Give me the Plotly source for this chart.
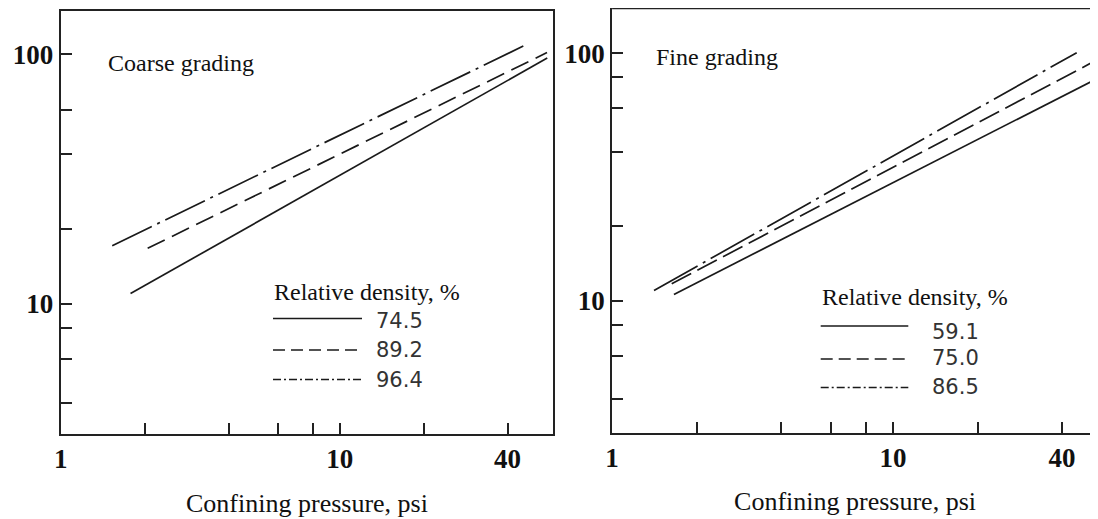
import plotly.graph_objects as go

# ---------------- data ----------------
coarse_density = ["74.5", "89.2", "96.4"]
coarse_x_745 = [1.78, 55.5]
coarse_y_745 = [11.0, 96.5]
coarse_x_892 = [2.05, 55.4]
coarse_y_892 = [16.7, 101.5]
coarse_x_964 = [1.53, 47.0]
coarse_y_964 = [17.1, 109.6]

fine_density = ["59.1", "75.0", "86.5"]
fine_x_591 = [1.66, 58.0]
fine_y_591 = [10.6, 83.0]
fine_x_750 = [1.63, 58.0]
fine_y_750 = [11.7, 99.0]
fine_x_865 = [1.41, 45.1]
fine_y_865 = [11.0, 100.6]

x_tick_vals = [1, 2, 4, 6, 8, 10, 20, 40]
x_tick_text = ["1", "", "", "", "", "10", "", "40"]
y_tick_vals_left = [4, 6, 8, 10, 20, 40, 60, 100]
y_tick_text_left = ["", "", "", "10", "", "", "", "100"]
y_tick_vals_right = [4, 6, 8, 10, 20, 40, 60, 80, 100]
y_tick_text_right = ["", "", "", "10", "", "", "", "", "100"]

x_title = "Confining pressure, psi"
legend_title = "Relative density, %"
panel_titles = ["Coarse grading", "Fine grading"]

# ---------------- styling ----------------
OFF = 8                      # page body margin of the html page
W, H = 1098 - OFF, 519 - OFF
INK = "#1a1a1a"
SERIF = "Liberation Serif, Times New Roman, serif"
SANS = "DejaVu Sans, Tahoma, sans-serif"


def px(x):
    return (x - OFF) / W


def py(y):
    return 1 - (y - OFF) / H


line_dash_coarse = ["solid", "19px,8px", "44px,6px,3px,6px"]
line_dash_fine = ["solid", "22px,7px", "50px,6px,3px,6px"]
legend_dash = ["solid", "12px,6px", "8px,3px,2px,3px"]

fig = go.Figure()

coarse_series = [(coarse_x_745, coarse_y_745), (coarse_x_892, coarse_y_892), (coarse_x_964, coarse_y_964)]
for (xs, ys), name, dash in zip(coarse_series, coarse_density, line_dash_coarse):
    fig.add_trace(go.Scatter(x=xs, y=ys, mode="lines", name=name, showlegend=False,
                             line=dict(color=INK, width=1.7, dash=dash),
                             xaxis="x", yaxis="y"))

fine_series = [(fine_x_591, fine_y_591), (fine_x_750, fine_y_750), (fine_x_865, fine_y_865)]
for (xs, ys), name, dash in zip(fine_series, fine_density, line_dash_fine):
    fig.add_trace(go.Scatter(x=xs, y=ys, mode="lines", name=name, showlegend=False,
                             line=dict(color=INK, width=1.7, dash=dash),
                             xaxis="x2", yaxis="y2"))

tickfont = dict(family=SERIF, size=27, color="#111", weight="bold")
axis_common = dict(type="log", showgrid=False, zeroline=False, showline=True,
                   linewidth=2, linecolor="#222", ticks="inside", ticklen=11,
                   tickwidth=1.5, tickcolor="#222", tickfont=tickfont,
                   automargin=False)
title_font = dict(family=SERIF, size=26, color="#111")

fig.update_layout(
    width=W, height=H,
    margin=dict(l=0, r=0, t=0, b=0),
    paper_bgcolor="white", plot_bgcolor="white",
    showlegend=False,
    xaxis=dict(axis_common, domain=[px(60.7), px(553.3)], range=[0, 1.766], mirror=True,
               tickvals=x_tick_vals, ticktext=x_tick_text, anchor="y",
               title=dict(text=x_title, font=title_font, standoff=20)),
    yaxis=dict(axis_common, domain=[py(434), py(11)], range=[0.479, 2.173], mirror=True,
               tickvals=y_tick_vals_left, ticktext=y_tick_text_left, anchor="x"),
    xaxis2=dict(axis_common, domain=[px(612.1), 1.0], range=[0, 1.730],
                tickvals=x_tick_vals, ticktext=x_tick_text, anchor="y2",
                title=dict(text=x_title, font=title_font, standoff=20)),
    yaxis2=dict(axis_common, domain=[py(432.5), py(8.3)], range=[0.467, 2.182],
                tickvals=y_tick_vals_right, ticktext=y_tick_text_right, anchor="x2"),
)

shapes = []
# top border of the (cut off) right panel
shapes.append(dict(type="line", xref="paper", yref="paper", x0=px(612.1), x1=1.0,
                   y0=py(8.3), y1=py(8.3), line=dict(color="#222", width=2)))

annotations = []
annotations.append(dict(text=panel_titles[0], xref="paper", yref="paper", x=px(106), y=py(63),
                        xanchor="left", yanchor="middle", showarrow=False,
                        font=dict(family=SERIF, size=24, color="#111")))
annotations.append(dict(text=panel_titles[1], xref="paper", yref="paper", x=px(654), y=py(57),
                        xanchor="left", yanchor="middle", showarrow=False,
                        font=dict(family=SERIF, size=24, color="#111")))

# hand-drawn legends (long line samples as in the original figure)
legend_specs = [
    dict(title_xy=(272, 291.7), sx=(273, 362), sy=[318.5, 350, 379.5],
         nx=374, ny=[320.7, 350, 380], labels=coarse_density),
    dict(title_xy=(819.7, 296.7), sx=(820.7, 908.3), sy=[326, 359, 387.5],
         nx=930, ny=[331.7, 358.3, 386.7], labels=fine_density),
]
for spec in legend_specs:
    annotations.append(dict(text=legend_title, xref="paper", yref="paper",
                            x=px(spec["title_xy"][0]), y=py(spec["title_xy"][1]),
                            xanchor="left", yanchor="middle", showarrow=False,
                            font=dict(family=SERIF, size=24, color="#111")))
    for lab, ys, yn, dash in zip(spec["labels"], spec["sy"], spec["ny"], legend_dash):
        shapes.append(dict(type="line", xref="paper", yref="paper",
                           x0=px(spec["sx"][0]), x1=px(spec["sx"][1]), y0=py(ys), y1=py(ys),
                           line=dict(color=INK, width=1.6, dash=dash)))
        annotations.append(dict(text=lab, xref="paper", yref="paper", x=px(spec["nx"]), y=py(yn),
                                xanchor="left", yanchor="middle", showarrow=False,
                                font=dict(family=SANS, size=21, color="#333")))

fig.update_layout(shapes=shapes, annotations=annotations)

fig.write_html("out.html")
